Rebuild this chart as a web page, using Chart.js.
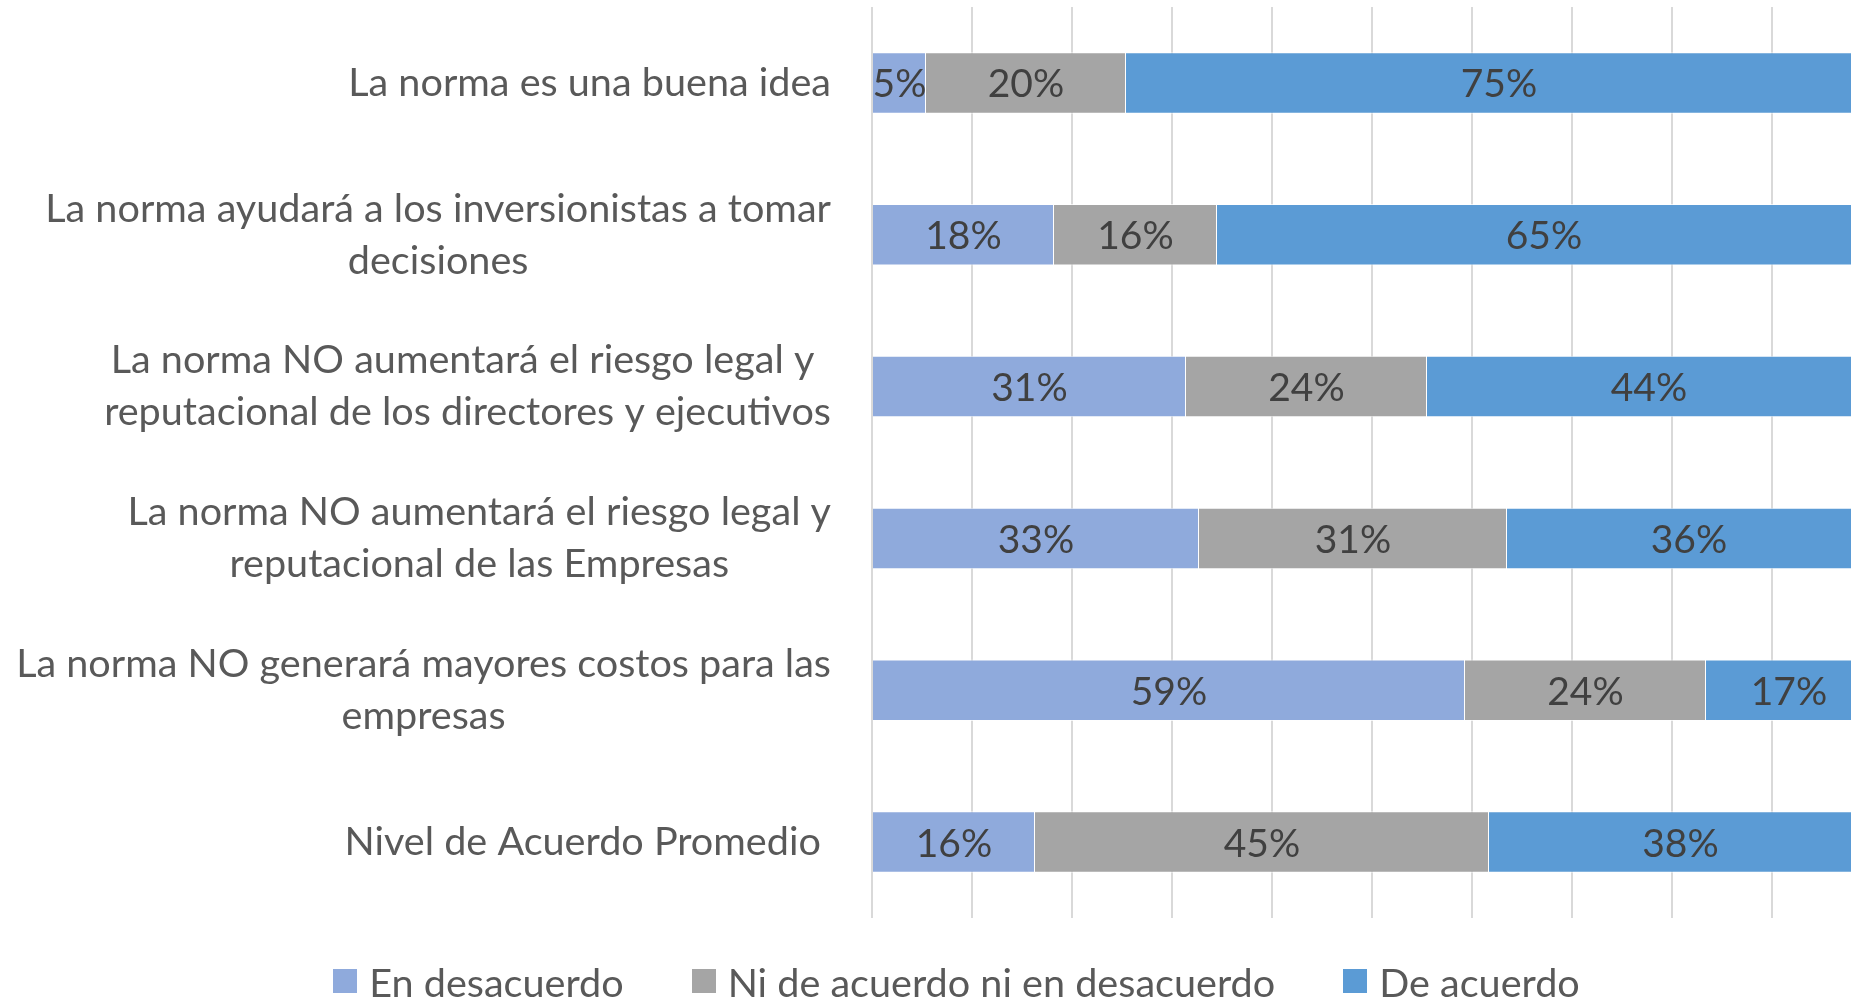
<!DOCTYPE html>
<html>
<head>
<meta charset="utf-8">
<script src="https://cdn.jsdelivr.net/npm/chart.js@4/dist/chart.umd.min.js"></script>
<style>
  html, body { margin: 0; padding: 0; overflow: hidden; background: #ffffff; width: 1851px; height: 997px; }
  #wrap { position: relative; width: 1880px; height: 997px; }
  #legend { position: absolute; left: 0; width: 1913px; top: 957px; height: 48px; display: flex; justify-content: center; align-items: center; gap: 68px; font-family: Lato, sans-serif; font-size: 39.6px; color: #595959; }
  #legend .item { display: flex; align-items: center; white-space: nowrap; }
  #legend .box { width: 24px; height: 24px; margin-right: 12px; display: inline-block; }
</style>
</head>
<body>
<div id="wrap">
  <canvas id="c"></canvas>
  <div id="legend"></div>
</div>
<script>
const categories = [
  ['La norma es una buena idea'],
  ['La norma ayudará a los inversionistas a tomar', 'decisiones'],
  ['La norma NO aumentará el riesgo legal y ', 'reputacional de los directores y ejecutivos'],
  ['La norma NO aumentará el riesgo legal y', 'reputacional de las Empresas'],
  ['La norma NO generará mayores costos para las', 'empresas'],
  ['Nivel de Acuerdo Promedio ']
];
const seriesNames = ['En desacuerdo', 'Ni de acuerdo ni en desacuerdo', 'De acuerdo'];
const enDesacuerdo = [5.4, 18.2, 31.4, 32.7, 59.3, 16.3];
const niDeAcuerdo = [20.0, 16.3, 24.1, 30.8, 24.1, 45.4];
const deAcuerdo = [74.6, 65.4, 44.4, 36.4, 16.6, 38.3];
const xTicks = [0, 10, 20, 30, 40, 50, 60, 70, 80, 90, 100];

const colors = ['#8FAADC', '#A5A5A5', '#5B9BD5'];
const FONT = 'Lato, sans-serif';
const FS = 39.6;
const DFS = 39;
const LH = 52;

const yLabelPlugin = {
  id: 'yLabels',
  afterDraw(chart) {
    const ctx = chart.ctx, ys = chart.scales.y;
    ctx.save();
    ctx.font = FS + 'px ' + FONT;
    ctx.fillStyle = '#595959';
    ctx.textBaseline = 'middle';
    ctx.textAlign = 'center';
    const right = chart.chartArea.left - 41;
    categories.forEach((lines, i) => {
      const cy = ys.getPixelForValue(i);
      const w = Math.max(...lines.map(l => ctx.measureText(l).width));
      const cx = right - w / 2;
      lines.forEach((l, j) => ctx.fillText(l, cx, cy + (j - (lines.length - 1) / 2) * LH));
    });
    ctx.restore();
  }
};

const dataLabelPlugin = {
  id: 'dataLabels',
  afterDatasetsDraw(chart) {
    const ctx = chart.ctx;
    ctx.save();
    ctx.font = DFS + 'px ' + FONT;
    ctx.fillStyle = '#404040';
    ctx.textBaseline = 'middle';
    ctx.textAlign = 'center';
    chart.data.datasets.forEach((ds, di) => {
      const meta = chart.getDatasetMeta(di);
      meta.data.forEach((bar, i) => {
        const p = bar.getProps(['x', 'y', 'base'], true);
        ctx.fillText(Math.round(ds.data[i]) + '%', (p.x + p.base) / 2, p.y + 2);
      });
    });
    ctx.restore();
  }
};

const seriesData = [enDesacuerdo, niDeAcuerdo, deAcuerdo];
const chart = new Chart(document.getElementById('c'), {
  type: 'bar',
  data: {
    labels: categories,
    datasets: seriesData.map((d, i) => ({
      label: seriesNames[i],
      data: d,
      backgroundColor: colors[i],
      borderColor: 'rgba(255,255,255,0.7)',
      borderWidth: 1,
      barPercentage: 0.405,
      categoryPercentage: 1
    }))
  },
  options: {
    indexAxis: 'y',
    responsive: true,
    maintainAspectRatio: false,
    animation: false,
    layout: { padding: { left: 32, right: 8, top: 7, bottom: 0 } },
    plugins: { legend: { display: false }, tooltip: { enabled: false } },
    scales: {
      x: {
        stacked: true,
        min: 0, max: 100,
        afterBuildTicks: s => { s.ticks = xTicks.map(v => ({ value: v })); },
        afterFit: s => { s.height = 79; },
        ticks: { display: false },
        grid: { color: '#D9D9D9', lineWidth: 2, drawTicks: false },
        border: { display: false }
      },
      y: {
        stacked: true,
        afterFit: s => { s.width = 840; },
        ticks: { display: false },
        grid: { display: false, drawTicks: false },
        border: { display: false }
      }
    }
  },
  plugins: [yLabelPlugin, dataLabelPlugin]
});

const legendEl = document.getElementById('legend');
seriesNames.forEach((n, i) => {
  const it = document.createElement('div');
  it.className = 'item';
  const b = document.createElement('span');
  b.className = 'box';
  b.style.background = colors[i];
  const t = document.createElement('span');
  t.textContent = n;
  it.appendChild(b); it.appendChild(t);
  legendEl.appendChild(it);
});
</script>
</body>
</html>
